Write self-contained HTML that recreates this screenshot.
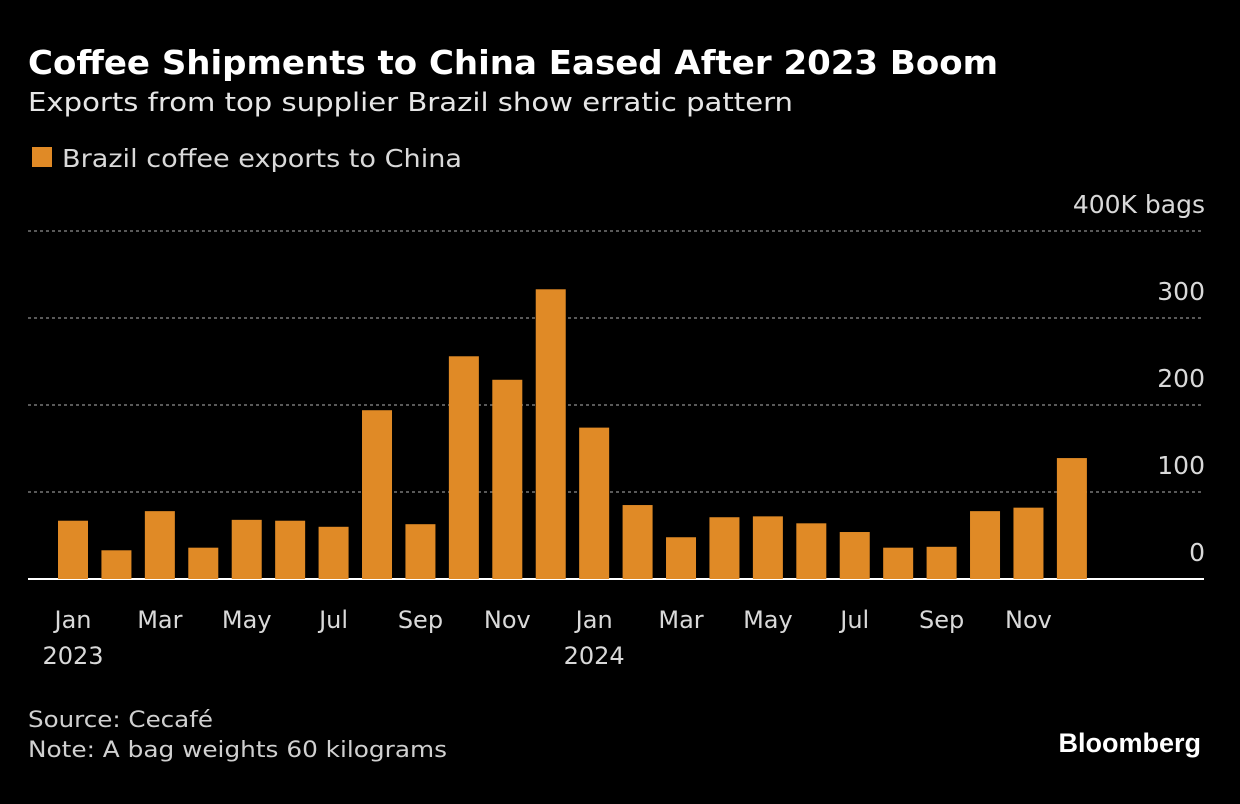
<!DOCTYPE html>
<html><head><meta charset="utf-8">
<style>
body{margin:0;background:#000;width:1240px;height:804px;overflow:hidden;font-family:"DejaVu Sans","Liberation Sans",sans-serif;color:#fff}
svg{position:absolute;left:0;top:0}
</style></head><body>
<svg width="1240" height="804" font-family="DejaVu Sans, Liberation Sans, sans-serif">
<text x="28" y="74" font-size="33" font-weight="bold" fill="#fff" textLength="970" lengthAdjust="spacingAndGlyphs">Coffee Shipments to China Eased After 2023 Boom</text>
<text x="28" y="111" font-size="26" fill="#e6e6e6" textLength="765" lengthAdjust="spacingAndGlyphs">Exports from top supplier Brazil show erratic pattern</text>
<rect x="32" y="147" width="20" height="20" fill="#e08a26"/>
<text x="62" y="167" font-size="25" fill="#d9d9d9" textLength="400" lengthAdjust="spacingAndGlyphs">Brazil coffee exports to China</text>
<g id="grid"></g><g id="bars"></g><g id="xlabels"></g>
<text x="28" y="727" font-size="22" fill="#d0d0d0" textLength="185" lengthAdjust="spacingAndGlyphs">Source: Cecafé</text>
<text x="28" y="757" font-size="22" fill="#d0d0d0" textLength="419" lengthAdjust="spacingAndGlyphs">Note: A bag weights 60 kilograms</text>
<text x="1201" y="752" font-size="27" font-weight="bold" fill="#fff" text-anchor="end" font-family="Liberation Sans, sans-serif">Bloomberg</text>
</svg>
<script>
const values=[67,33,78,36,68,67,60,194,63,256,229,333,174,85,48,71,72,64,54,36,37,78,82,139];
const yTicks=[0,100,200,300,400];
const yTickLabels=["0","100","200","300","400K bags"];
const xLabels=["Jan","Mar","May","Jul","Sep","Nov","Jan","Mar","May","Jul","Sep","Nov"];
const xLabelIdx=[0,2,4,6,8,10,12,14,16,18,20,22];
const yearLabels=["2023","2024"];
const yearIdx=[0,12];
const NS="http://www.w3.org/2000/svg";
const y=v=>579-v*0.87, x=i=>73+i*43.43;
function mk(t,a,p){const e=document.createElementNS(NS,t);for(const k in a)e.setAttribute(k,a[k]);p.appendChild(e);return e;}
const g=document.getElementById('grid');
yTicks.forEach((v,i)=>{
 if(v>0){const l=mk('line',{x1:28,x2:1204,y1:y(v),y2:y(v),stroke:'#777','stroke-dasharray':'3,3','stroke-width':1.5},g);
 
 }
 const t=mk('text',{x:1205,y:y(v)-18,'font-size':25,fill:'#d9d9d9','text-anchor':'end'},g);
 t.textContent=yTickLabels[i];
 
 
});
const b=document.getElementById('bars');
values.forEach((v,i)=>{
 const r=mk('rect',{x:x(i)-15,y:y(v),width:30,height:579-y(v),fill:'#e08a26'},b);
 
 
});
const base=mk('line',{x1:28,x2:1204,y1:579,y2:579,stroke:'#fff','stroke-width':2},g);


const xl=document.getElementById('xlabels');
xLabels.forEach((s,k)=>{
 const t=mk('text',{x:x(xLabelIdx[k]),y:628,'font-size':24,fill:'#d9d9d9','text-anchor':'middle'},xl);
 t.textContent=s;
 
 
});
yearLabels.forEach((s,k)=>{
 const t=mk('text',{x:x(yearIdx[k]),y:664,'font-size':24,fill:'#d9d9d9','text-anchor':'middle'},xl);
 t.textContent=s;
 
 
});
</script>
</body></html>
